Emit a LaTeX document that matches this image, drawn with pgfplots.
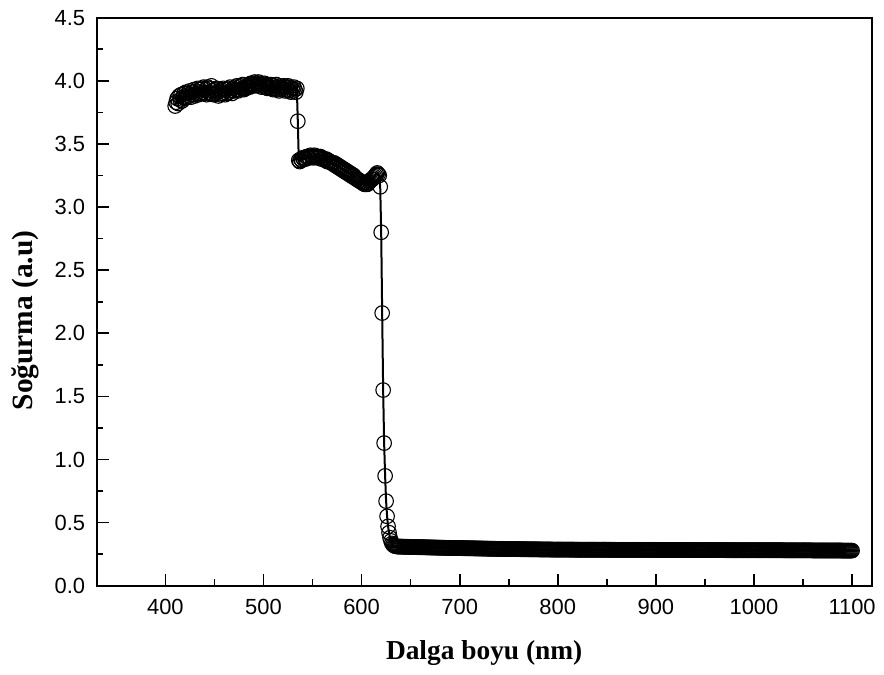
\documentclass[border=0pt]{standalone}
\usepackage{pgfplots}
\pgfplotsset{compat=1.18}
\usepackage{fontspec}
\setmainfont{Liberation Sans}
\newfontfamily\timesfont{Liberation Serif}
\begin{document}
\begin{tikzpicture}
\begin{axis}[
  at={(96.7bp,89.3bp)}, anchor=south west,
  scale only axis, width=775bp, height=568bp,
  xmin=330, xmax=1120, ymin=0, ymax=4.5,
  axis line style={line width=1.7bp},
  xtick={400,500,...,1100}, ytick={0,0.5,...,4.5},
  minor x tick num=1, minor y tick num=1,
  tick pos=left, tick align=inside,
  major tick length=12bp, minor tick length=6.5bp,
  every tick/.style={line width=1.7bp, black},
  /pgf/number format/assume math mode=true,
  /pgf/number format/1000 sep={},
  yticklabel style={/pgf/number format/fixed,/pgf/number format/precision=1,/pgf/number format/fixed zerofill, font=\fontsize{22}{26}\selectfont, xshift=-8bp},
  xticklabel style={font=\fontsize{22}{26}\selectfont, yshift=-10bp},
  xlabel={\timesfont\bfseries Dalga boyu (nm)},
  ylabel={\timesfont\bfseries Soğurma (a.u)},
  xlabel style={font=\fontsize{27.5}{30}\selectfont, at={(axis description cs:0.5,-0.1303)}, anchor=base},
  ylabel style={font=\fontsize{29.5}{32}\selectfont, at={(axis description cs:-0.0822,0.467)}, anchor=base, rotate=0},
  clip=false,
]
\addplot[black, line width=2bp, mark=o, mark size=7.3bp, mark options={line width=1.1bp, solid}] coordinates {
(410,3.80)(411,3.83)(412,3.86)(413,3.82)(414,3.88)(415,3.85)(416,3.89)(417,3.84)(418,3.87)(419,3.90)
(420,3.86)(421,3.91)(422,3.87)(423,3.90)(424,3.88)(425,3.92)(426,3.87)(427,3.91)(428,3.89)(429,3.93)
(430,3.88)(431,3.92)(432,3.90)(433,3.94)(434,3.89)(435,3.93)(436,3.90)(437,3.94)(438,3.91)(439,3.95)
(440,3.90)(441,3.93)(442,3.89)(443,3.95)(444,3.91)(445,3.94)(446,3.90)(447,3.96)(448,3.92)(449,3.89)
(450,3.93)(451,3.90)(452,3.94)(453,3.91)(454,3.88)(455,3.92)(456,3.89)(457,3.93)(458,3.90)(459,3.94)
(460,3.91)(461,3.89)(462,3.93)(463,3.90)(464,3.94)(465,3.91)(466,3.95)(467,3.92)(468,3.90)(469,3.94)
(470,3.92)(471,3.95)(472,3.93)(473,3.96)(474,3.92)(475,3.95)(476,3.93)(477,3.96)(478,3.94)(479,3.97)
(480,3.93)(481,3.95)(482,3.94)(483,3.96)(484,3.95)(485,3.97)(486,3.95)(487,3.98)(488,3.96)(489,3.98)
(490,3.97)(491,3.99)(492,3.96)(493,3.98)(494,3.97)(495,3.99)(496,3.96)(497,3.98)(498,3.95)(499,3.97)
(500,3.96)(501,3.98)(502,3.95)(503,3.97)(504,3.94)(505,3.96)(506,3.95)(507,3.97)(508,3.94)(509,3.96)
(510,3.93)(511,3.96)(512,3.94)(513,3.97)(514,3.93)(515,3.95)(516,3.92)(517,3.96)(518,3.93)(519,3.95)
(520,3.94)(521,3.96)(522,3.92)(523,3.95)(524,3.93)(525,3.96)(526,3.92)(527,3.95)(528,3.91)(529,3.94)
(530,3.92)(531,3.95)(532,3.93)(533,3.91)(534,3.94)(535,3.68)(536,3.37)
(537,3.36)(538,3.38)(539,3.37)(540,3.39)(541,3.38)(542,3.39)(543,3.38)(544,3.40)(545,3.39)(546,3.40)
(547,3.39)(548,3.41)(549,3.40)(550,3.40)(551,3.39)(552,3.41)(553,3.40)(554,3.40)(555,3.39)(556,3.40)
(557,3.39)(558,3.40)(559,3.38)(560,3.39)(561,3.38)(562,3.38)(563,3.37)(564,3.38)(565,3.36)(566,3.37)
(567,3.36)(568,3.36)(569,3.35)(570,3.35)(571,3.34)(572,3.35)(573,3.33)(574,3.34)(575,3.32)(576,3.33)
(577,3.31)(578,3.32)(579,3.30)(580,3.31)(581,3.29)(582,3.30)(583,3.28)(584,3.29)(585,3.27)(586,3.28)
(587,3.26)(588,3.27)(589,3.25)(590,3.26)(591,3.24)(592,3.25)(593,3.23)(594,3.23)(595,3.22)(596,3.22)
(597,3.21)(598,3.21)(599,3.20)(600,3.20)(601,3.19)(602,3.19)(603,3.18)(604,3.18)(605,3.19)(606,3.18)
(607,3.19)(608,3.20)(609,3.21)(610,3.22)(611,3.22)(612,3.23)(613,3.24)(614,3.25)(615,3.26)(616,3.27)
(617,3.26)(618,3.25)(619,3.16)(620,2.80)(621,2.16)(622,1.55)(623,1.13)(624,0.87)(625,0.67)(626,0.55)
(627,0.47)(628,0.42)(629,0.38)(630,0.355)(631,0.335)(632,0.325)(633,0.318)(634,0.314)(635,0.312)(636,0.311)
(637,0.310)(638,0.310)(639,0.310)(640,0.309)(641,0.310)(642,0.309)(643,0.309)(644,0.308)(645,0.309)(646,0.308)
(647,0.308)(648,0.308)(649,0.307)(650,0.307)(651,0.307)(652,0.306)(653,0.307)(654,0.306)(655,0.306)(656,0.306)
(657,0.305)(658,0.306)(659,0.305)(660,0.305)(661,0.305)(662,0.304)(663,0.305)(664,0.304)(665,0.304)(666,0.304)
(667,0.303)(668,0.304)(669,0.303)(670,0.303)(671,0.303)(672,0.303)(673,0.302)(674,0.303)(675,0.302)(676,0.302)
(677,0.302)(678,0.301)(679,0.302)(680,0.301)(681,0.301)(682,0.301)(683,0.301)(684,0.300)(685,0.301)(686,0.300)
(687,0.300)(688,0.300)(689,0.300)(690,0.299)(691,0.300)(692,0.299)(693,0.299)(694,0.299)(695,0.299)(696,0.298)
(697,0.299)(698,0.298)(699,0.298)(700,0.298)(701,0.298)(702,0.297)(703,0.298)(704,0.297)(705,0.297)(706,0.297)
(707,0.297)(708,0.296)(709,0.297)(710,0.296)(711,0.296)(712,0.296)(713,0.296)(714,0.296)(715,0.295)(716,0.296)
(717,0.295)(718,0.295)(719,0.295)(720,0.295)(721,0.295)(722,0.294)(723,0.295)(724,0.294)(725,0.294)(726,0.294)
(727,0.294)(728,0.294)(729,0.293)(730,0.293)(731,0.293)(732,0.293)(733,0.293)(734,0.293)(735,0.292)(736,0.293)
(737,0.292)(738,0.292)(739,0.292)(740,0.292)(741,0.292)(742,0.292)(743,0.291)(744,0.292)(745,0.291)(746,0.291)
(747,0.291)(748,0.291)(749,0.291)(750,0.291)(751,0.290)(752,0.291)(753,0.290)(754,0.290)(755,0.290)(756,0.290)
(757,0.290)(758,0.290)(759,0.290)(760,0.289)(761,0.290)(762,0.289)(763,0.289)(764,0.289)(765,0.289)(766,0.289)
(767,0.289)(768,0.289)(769,0.288)(770,0.289)(771,0.288)(772,0.288)(773,0.288)(774,0.288)(775,0.288)(776,0.288)
(777,0.288)(778,0.288)(779,0.288)(780,0.288)(781,0.287)(782,0.288)(783,0.287)(784,0.287)(785,0.287)(786,0.287)
(787,0.287)(788,0.287)(789,0.287)(790,0.287)(791,0.287)(792,0.287)(793,0.286)(794,0.287)(795,0.286)(796,0.286)
(797,0.286)(798,0.286)(799,0.286)(800,0.286)(801,0.286)(802,0.286)(803,0.286)(804,0.286)(805,0.286)(806,0.286)
(807,0.286)(808,0.286)(809,0.286)(810,0.286)(811,0.286)(812,0.286)(813,0.285)(814,0.286)(815,0.286)(816,0.285)
(817,0.286)(818,0.285)(819,0.285)(820,0.286)(821,0.285)(822,0.285)(823,0.285)(824,0.285)(825,0.285)(826,0.285)
(827,0.285)(828,0.285)(829,0.285)(830,0.285)(831,0.285)(832,0.285)(833,0.285)(834,0.285)(835,0.285)(836,0.285)
(837,0.285)(838,0.285)(839,0.285)(840,0.285)(841,0.285)(842,0.285)(843,0.285)(844,0.285)(845,0.285)(846,0.285)
(847,0.285)(848,0.285)(849,0.285)(850,0.285)(851,0.284)(852,0.285)(853,0.285)(854,0.284)(855,0.285)(856,0.284)
(857,0.284)(858,0.285)(859,0.284)(860,0.284)(861,0.284)(862,0.284)(863,0.284)(864,0.284)(865,0.284)(866,0.284)
(867,0.284)(868,0.284)(869,0.284)(870,0.284)(871,0.284)(872,0.284)(873,0.284)(874,0.284)(875,0.284)(876,0.284)
(877,0.284)(878,0.284)(879,0.284)(880,0.284)(881,0.284)(882,0.284)(883,0.284)(884,0.284)(885,0.284)(886,0.284)
(887,0.284)(888,0.284)(889,0.284)(890,0.284)(891,0.284)(892,0.284)(893,0.284)(894,0.284)(895,0.284)(896,0.284)
(897,0.284)(898,0.284)(899,0.284)(900,0.284)(901,0.283)(902,0.284)(903,0.283)(904,0.283)(905,0.284)(906,0.283)
(907,0.283)(908,0.283)(909,0.283)(910,0.283)(911,0.283)(912,0.283)(913,0.283)(914,0.283)(915,0.283)(916,0.283)
(917,0.283)(918,0.283)(919,0.283)(920,0.283)(921,0.283)(922,0.283)(923,0.283)(924,0.283)(925,0.283)(926,0.283)
(927,0.283)(928,0.283)(929,0.283)(930,0.283)(931,0.282)(932,0.283)(933,0.282)(934,0.283)(935,0.282)(936,0.282)
(937,0.282)(938,0.282)(939,0.282)(940,0.282)(941,0.282)(942,0.282)(943,0.282)(944,0.282)(945,0.282)(946,0.282)
(947,0.282)(948,0.282)(949,0.282)(950,0.282)(951,0.282)(952,0.282)(953,0.282)(954,0.282)(955,0.282)(956,0.282)
(957,0.282)(958,0.282)(959,0.282)(960,0.282)(961,0.282)(962,0.282)(963,0.282)(964,0.282)(965,0.282)(966,0.282)
(967,0.282)(968,0.282)(969,0.282)(970,0.282)(971,0.281)(972,0.282)(973,0.281)(974,0.281)(975,0.282)(976,0.281)
(977,0.281)(978,0.281)(979,0.281)(980,0.281)(981,0.281)(982,0.281)(983,0.281)(984,0.281)(985,0.281)(986,0.281)
(987,0.281)(988,0.281)(989,0.281)(990,0.281)(991,0.281)(992,0.281)(993,0.281)(994,0.281)(995,0.281)(996,0.281)
(997,0.281)(998,0.281)(999,0.281)(1000,0.281)(1001,0.281)(1002,0.281)(1003,0.281)(1004,0.281)(1005,0.281)(1006,0.281)
(1007,0.281)(1008,0.281)(1009,0.281)(1010,0.281)(1011,0.281)(1012,0.281)(1013,0.281)(1014,0.281)(1015,0.281)(1016,0.281)
(1017,0.281)(1018,0.281)(1019,0.281)(1020,0.281)(1021,0.281)(1022,0.281)(1023,0.281)(1024,0.281)(1025,0.281)(1026,0.281)
(1027,0.281)(1028,0.281)(1029,0.281)(1030,0.280)(1031,0.280)(1032,0.280)(1033,0.280)(1034,0.280)(1035,0.280)(1036,0.280)
(1037,0.280)(1038,0.280)(1039,0.280)(1040,0.280)(1041,0.280)(1042,0.280)(1043,0.280)(1044,0.280)(1045,0.280)(1046,0.280)
(1047,0.280)(1048,0.280)(1049,0.280)(1050,0.280)(1051,0.280)(1052,0.280)(1053,0.280)(1054,0.280)(1055,0.280)(1056,0.280)
(1057,0.280)(1058,0.280)(1059,0.280)(1060,0.279)(1061,0.279)(1062,0.279)(1063,0.279)(1064,0.279)(1065,0.279)(1066,0.279)
(1067,0.279)(1068,0.279)(1069,0.279)(1070,0.279)(1071,0.279)(1072,0.279)(1073,0.279)(1074,0.279)(1075,0.279)(1076,0.279)
(1077,0.279)(1078,0.279)(1079,0.279)(1080,0.279)(1081,0.279)(1082,0.279)(1083,0.279)(1084,0.279)(1085,0.279)(1086,0.279)
(1087,0.279)(1088,0.279)(1089,0.279)(1090,0.278)(1091,0.278)(1092,0.278)(1093,0.278)(1094,0.278)(1095,0.278)(1096,0.278)
(1097,0.278)(1098,0.278)(1099,0.278)(1100,0.278)
};
\end{axis}
\pgfresetboundingbox
\path[use as bounding box] (0,0) rectangle (884bp,675bp);
\end{tikzpicture}
\end{document}
